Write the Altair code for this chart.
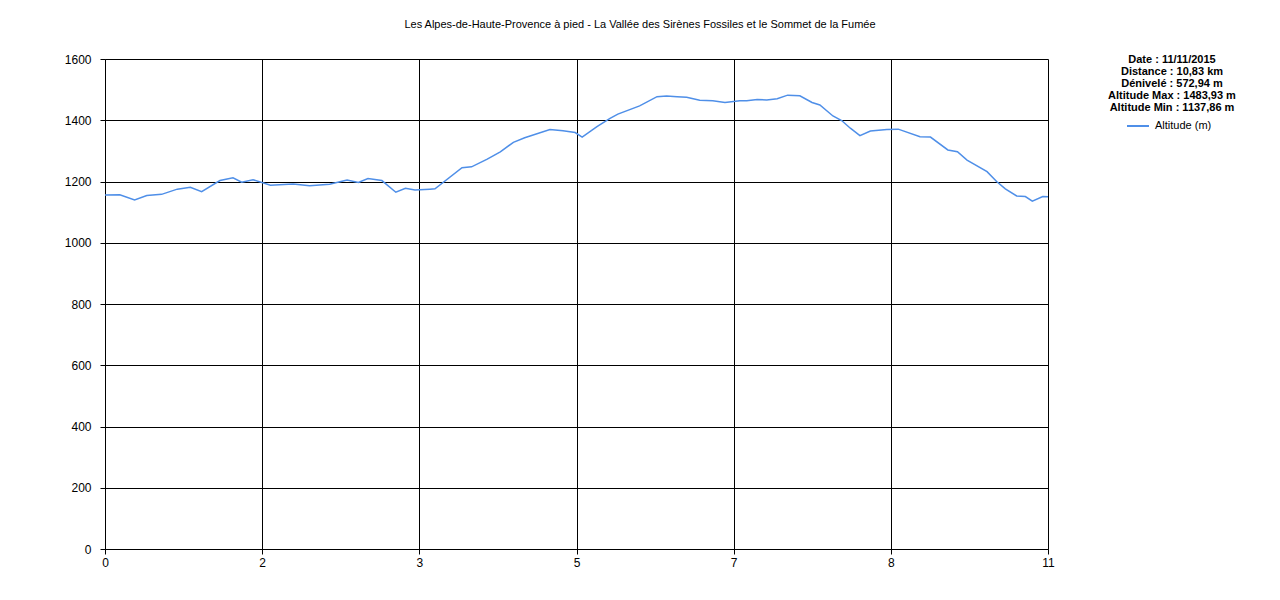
import altair as alt
import pandas as pd

km = [0, 0.17, 0.34, 0.48, 0.65, 0.83, 0.98, 1.11, 1.32, 1.47, 1.57, 1.70, 1.90, 2.16,
      2.35, 2.58, 2.78, 2.91, 3.02, 3.18, 3.34, 3.45, 3.56, 3.73, 3.79, 4.10, 4.21, 4.39,
      4.54, 4.69, 4.82, 5.11, 5.26, 5.40, 5.48, 5.65, 5.80, 5.89, 6.14, 6.34, 6.45, 6.57,
      6.68, 6.83, 6.98, 7.12, 7.29, 7.37, 7.49, 7.60, 7.72, 7.84, 7.98, 8.12, 8.21, 8.36,
      8.46, 8.56, 8.67, 8.79, 8.98, 9.11, 9.36, 9.48, 9.68, 9.79, 9.90, 10.13, 10.24,
      10.34, 10.47, 10.57, 10.65, 10.77, 10.83]
alt_m = [1156, 1157, 1140, 1154, 1158, 1175, 1181, 1167, 1203, 1212, 1198, 1206, 1188, 1192,
         1186, 1191, 1205, 1197, 1210, 1203, 1165, 1178, 1172, 1175, 1176, 1245, 1248, 1273,
         1297, 1328, 1343, 1370, 1366, 1360, 1345, 1379, 1406, 1420, 1447, 1477, 1479, 1477,
         1475, 1465, 1464, 1458, 1464, 1464, 1468, 1466, 1470, 1482, 1480, 1458, 1450, 1414,
         1399, 1374, 1350, 1365, 1370, 1371, 1346, 1345, 1303, 1297, 1270, 1232, 1200,
         1176, 1153, 1151, 1136, 1151, 1150]

x_ticks = [0, 1.805, 3.61, 5.415, 7.22, 9.025, 10.83]
x_labels = ["0", "2", "3", "5", "7", "8", "11"]
y_ticks = [0, 200, 400, 600, 800, 1000, 1200, 1400, 1600]

title_text = "Les Alpes-de-Haute-Provence à pied - La Vallée des Sirènes Fossiles et le Sommet de la Fumée"
stats_lines = ["Date : 11/11/2015", "Distance : 10,83 km", "Dénivelé : 572,94 m",
               "Altitude Max : 1483,93 m", "Altitude Min : 1137,86 m"]
series_name = "Altitude (m)"

df = pd.DataFrame({"km": km, "alt": alt_m, "serie": series_name})

# label expression built from tick lists
expr = "''"
for v, l in reversed(list(zip(x_ticks, x_labels))):
    expr = f"abs(datum.value - {v}) < 0.01 ? '{l}' : ({expr})"

FONT = "Liberation Sans"
W, H = 943, 490

line = alt.Chart(df).mark_line(strokeWidth=1.5, clip=True).encode(
    x=alt.X("km:Q", scale=alt.Scale(domain=[0, 10.83], nice=False, zero=False),
            axis=alt.Axis(values=x_ticks, labelExpr=expr, title=None, grid=True,
                          gridColor="black", gridOpacity=1, domainColor="black",
                          tickColor="black", tickSize=5, labelPadding=3,
                          labelFlush=False, labelOverlap=False,
                          labelFontSize=12, labelColor="black", labelFont=FONT)),
    y=alt.Y("alt:Q", scale=alt.Scale(domain=[0, 1600], nice=False),
            axis=alt.Axis(values=y_ticks, format="d", title=None, grid=True,
                          gridColor="black", gridOpacity=1, domainColor="black",
                          tickColor="black", tickSize=5, labelPadding=9,
                          labelFontSize=12, labelColor="black", labelFont=FONT)),
    color=alt.Color("serie:N", scale=alt.Scale(range=["#4f8fe8"]),
                    legend=alt.Legend(title=None, orient="none", legendX=1021, legendY=55,
                                      symbolType="stroke", symbolSize=484,
                                      symbolStrokeWidth=2, labelFontSize=11,
                                      labelFont=FONT, labelColor="black",
                                      labelOffset=5, padding=0)),
)

one = pd.DataFrame({"a": [0]})
title = alt.Chart(one).mark_text(text=title_text, font=FONT, fontSize=11, color="black",
                                 align="center", baseline="middle").encode(
    x=alt.value(640 - 105), y=alt.value(25 - 59))
stats = alt.Chart(one).mark_text(text="\n".join(stats_lines), lineBreak="\n", lineHeight=12,
                                 font=FONT, fontSize=11, fontWeight="bold", color="black",
                                 align="center", baseline="middle").encode(
    x=alt.value(1172 - 105), y=alt.value(1))

chart = alt.layer(line, title, stats).properties(
    width=W, height=H,
    autosize=alt.AutoSizeParams(type="none"),
    padding={"left": 97, "top": 51, "right": 220, "bottom": 40},
).configure_view(strokeWidth=0)

chart.save("out.html", embed_options={"renderer": "svg", "actions": False})
